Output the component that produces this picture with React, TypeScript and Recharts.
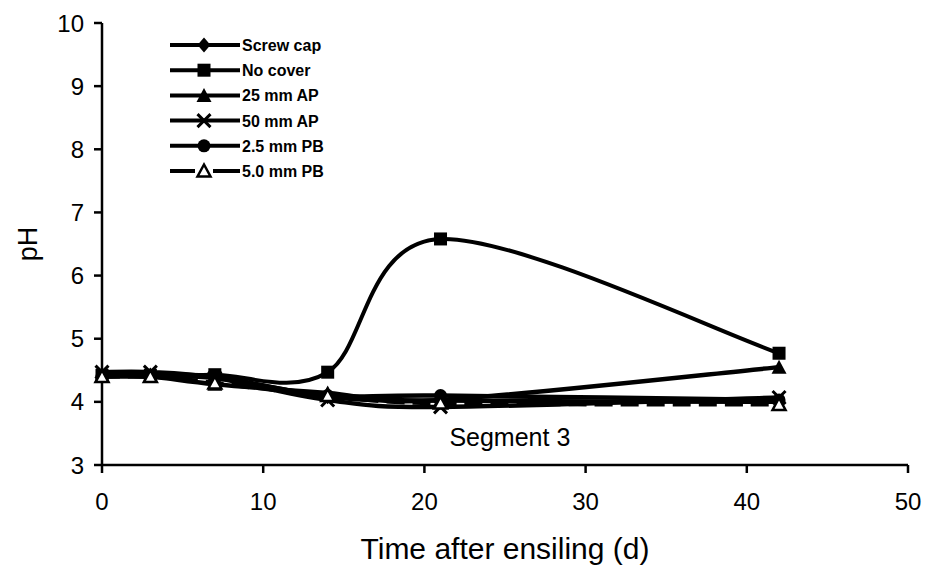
import React from 'react'
import {
  Line,
  LineChart,
  ReferenceDot,
  XAxis,
  YAxis,
} from 'recharts'

// days after ensiling
const days = [0, 3, 7, 14, 21, 42]

// pH per treatment
const screwCap = [4.42, 4.42, 4.4, 4.08, 4.02, 4.0]
const noCover = [4.42, 4.42, 4.43, 4.47, 6.58, 4.77]
const ap25 = [4.42, 4.4, 4.28, 4.14, 4.03, 4.55]
const ap50 = [4.47, 4.47, 4.38, 4.03, 3.92, 4.07]
const pb25 = [4.4, 4.4, 4.38, 4.1, 4.1, 4.03]
const pb50 = [4.4, 4.4, 4.3, 4.1, 3.98, 3.96]

const xTicks = [0, 10, 20, 30, 40, 50]
const yTicks = [3, 4, 5, 6, 7, 8, 9, 10]

const segmentLabel = { x: 25.3, y: 3.44, text: 'Segment 3' }

const FONT = '"Liberation Sans", Arial, sans-serif'

type Shape = 'diamond' | 'square' | 'triangle' | 'cross' | 'circle' | 'openTriangle'

const series: { key: string; name: string; values: number[]; shape: Shape; dash?: string }[] = [
  { key: 'screwCap', name: 'Screw cap', values: screwCap, shape: 'diamond' },
  { key: 'noCover', name: 'No cover', values: noCover, shape: 'square' },
  { key: 'ap25', name: '25 mm AP', values: ap25, shape: 'triangle' },
  { key: 'ap50', name: '50 mm AP', values: ap50, shape: 'cross' },
  { key: 'pb25', name: '2.5 mm PB', values: pb25, shape: 'circle' },
  { key: 'pb50', name: '5.0 mm PB', values: pb50, shape: 'openTriangle', dash: '18 8' },
]

const data = days.map((d, i) => {
  const row: Record<string, number> = { day: d }
  series.forEach((s) => (row[s.key] = s.values[i]))
  return row
})

// excel-style smoothed line (catmull-rom as cubic bezier)
function smoothCurve(context: any) {
  let pts: [number, number][] = []
  return {
    areaStart() {},
    areaEnd() {},
    lineStart() {
      pts = []
    },
    point(x: number, y: number) {
      pts.push([+x, +y])
    },
    lineEnd() {
      if (!pts.length) return
      context.moveTo(pts[0][0], pts[0][1])
      for (let i = 0; i < pts.length - 1; i++) {
        const p0 = pts[i - 1] || pts[i]
        const p1 = pts[i]
        const p2 = pts[i + 1]
        const p3 = pts[i + 2] || pts[i + 1]
        context.bezierCurveTo(
          p1[0] + (p2[0] - p0[0]) / 6,
          p1[1] + (p2[1] - p0[1]) / 6,
          p2[0] - (p3[0] - p1[0]) / 6,
          p2[1] - (p3[1] - p1[1]) / 6,
          p2[0],
          p2[1],
        )
      }
    },
  }
}

function Marker({ shape, cx, cy }: { shape: Shape; cx: number; cy: number }) {
  const s = 6.5
  switch (shape) {
    case 'diamond':
      return <polygon points={`${cx},${cy - s - 1} ${cx + s},${cy} ${cx},${cy + s + 1} ${cx - s},${cy}`} fill="#000" />
    case 'square':
      return <rect x={cx - s} y={cy - s} width={s * 2} height={s * 2} fill="#000" />
    case 'triangle':
      return <polygon points={`${cx},${cy - s - 1} ${cx + s + 1},${cy + s} ${cx - s - 1},${cy + s}`} fill="#000" />
    case 'cross':
      return (
        <path
          d={`M${cx - s},${cy - s}L${cx + s},${cy + s}M${cx + s},${cy - s}L${cx - s},${cy + s}`}
          stroke="#000"
          strokeWidth={3}
        />
      )
    case 'circle':
      return <circle cx={cx} cy={cy} r={s} fill="#000" />
    case 'openTriangle':
      return (
        <polygon
          points={`${cx},${cy - s} ${cx + s},${cy + s - 1} ${cx - s},${cy + s - 1}`}
          fill="#fff"
          stroke="#000"
          strokeWidth={2.5}
        />
      )
  }
}

function LegendBox() {
  return (
    <svg
      width={200}
      height={160}
      style={{ position: 'absolute', left: 165, top: 33, overflow: 'visible' }}
    >
      {series.map((s, i) => {
        const y = 12 + i * 25.2
        return (
          <g key={s.key}>
            {s.dash ? (
              <>
                <line x1={5} x2={30} y1={y} y2={y} stroke="#000" strokeWidth={4} />
                <line x1={48} x2={75} y1={y} y2={y} stroke="#000" strokeWidth={4} />
              </>
            ) : (
              <line x1={5} x2={75} y1={y} y2={y} stroke="#000" strokeWidth={4} />
            )}
            <Marker shape={s.shape} cx={39} cy={y} />
            <text
              x={77}
              y={y + 6}
              fontFamily={FONT}
              fontSize={16}
              fontWeight="bold"
              fill="#000"
            >
              {s.name}
            </text>
          </g>
        )
      })}
    </svg>
  )
}

export default function App() {
  return (
    <div style={{ position: 'absolute', left: 0, top: 0, width: 925, height: 565, background: '#fff' }}>
      <LineChart
        width={925}
        height={565}
        data={data}
        margin={{ top: 23, right: 17, bottom: 0, left: 0 }}
      >
        <XAxis
          dataKey="day"
          type="number"
          domain={[0, 50]}
          ticks={xTicks}
          tickSize={8}
          tickMargin={20}
          height={100}
          axisLine={{ stroke: '#000', strokeWidth: 2.5 }}
          tickLine={{ stroke: '#000', strokeWidth: 2.5 }}
          tick={{ fill: '#000', fontSize: 24, fontFamily: FONT }}
          label={{
            value: 'Time after ensiling (d)',
            position: 'insideBottom',
            offset: 6,
            fill: '#000',
            fontSize: 30,
            fontFamily: FONT,
          }}
        />
        <YAxis
          type="number"
          domain={[3, 10]}
          ticks={yTicks}
          width={102}
          tickSize={8}
          tickMargin={10}
          axisLine={{ stroke: '#000', strokeWidth: 2.5 }}
          tickLine={{ stroke: '#000', strokeWidth: 2.5 }}
          tick={{ fill: '#000', fontSize: 24, fontFamily: FONT }}
          label={{
            content: ({ viewBox }: any) => {
              const cx = viewBox.x + 28
              const cy = viewBox.y + viewBox.height / 2
              return (
                <text
                  x={cx}
                  y={cy}
                  transform={`rotate(-90, ${cx}, ${cy})`}
                  textAnchor="middle"
                  dominantBaseline="central"
                  fontSize={27}
                  fontFamily={FONT}
                  fill="#000"
                >
                  pH
                </text>
              )
            },
          }}
        />
        {series.map((s) => (
          <Line
            key={s.key}
            dataKey={s.key}
            name={s.name}
            type={smoothCurve as any}
            stroke="#000"
            strokeWidth={s.key === 'noCover' ? 4 : 4.5}
            strokeDasharray={s.dash}
            isAnimationActive={false}
            dot={(p: any) => (
              <Marker key={`${s.key}-${p.index}`} shape={s.shape} cx={p.cx} cy={p.cy} />
            )}
            activeDot={false}
          />
        ))}
        <ReferenceDot
          x={segmentLabel.x}
          y={segmentLabel.y}
          r={0}
          fill="none"
          stroke="none"
          label={{
            value: segmentLabel.text,
            position: 'center',
            fill: '#000',
            fontSize: 25,
            fontFamily: FONT,
          }}
        />
      </LineChart>
      <LegendBox />
    </div>
  )
}
